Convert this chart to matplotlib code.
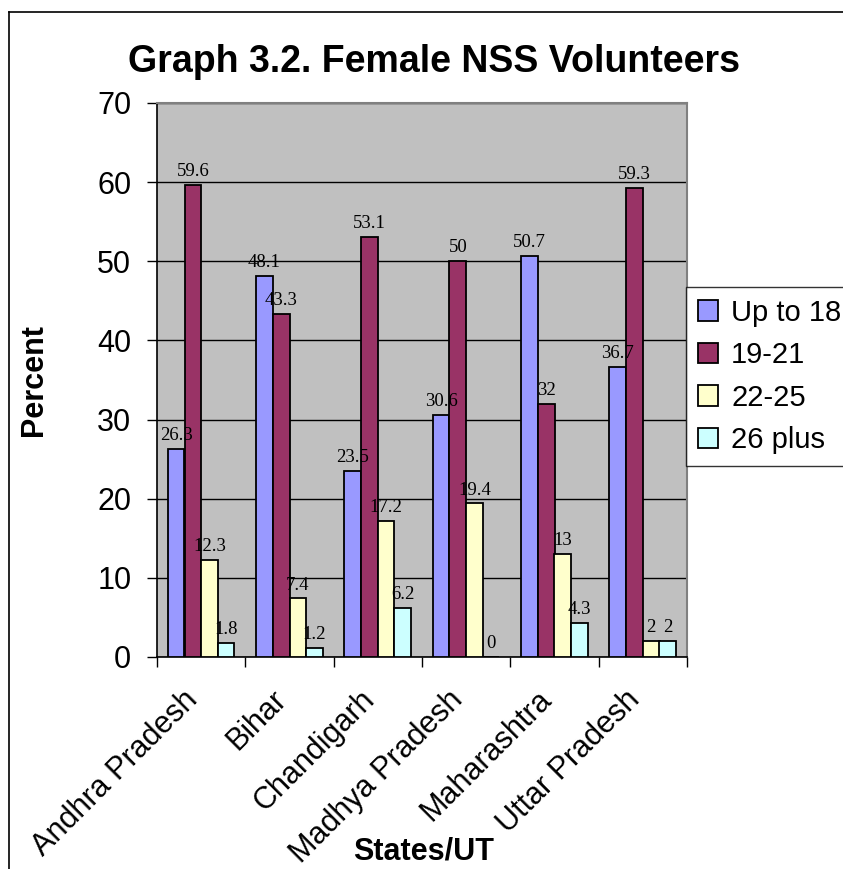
import matplotlib
matplotlib.use("Agg")
import matplotlib.pyplot as plt
import matplotlib.transforms as mtransforms
from matplotlib.lines import Line2D
import numpy as np

states = ["Andhra Pradesh", "Bihar", "Chandigarh", "Madhya Pradesh",
          "Maharashtra", "Uttar Pradesh"]
series_names = ["Up to 18", "19-21", "22-25", "26 plus"]
up_to_18 = [26.3, 48.1, 23.5, 30.6, 50.7, 36.7]
age_19_21 = [59.6, 43.3, 53.1, 50, 32, 59.3]
age_22_25 = [12.3, 7.4, 17.2, 19.4, 13, 2]
age_26_plus = [1.8, 1.2, 6.2, 0, 4.3, 2]
y_ticks = [0, 10, 20, 30, 40, 50, 60, 70]

series = [up_to_18, age_19_21, age_22_25, age_26_plus]
colors = ["#9999FF", "#993366", "#FFFFCC", "#CCFFFF"]

sans = "Liberation Sans"
serif = "Liberation Serif"

W, H = 843, 869
fig = plt.figure(figsize=(W / 100, H / 100), dpi=100)

def fx(px):
    return px / W

def fy(py):
    return 1 - py / H

left, right, top, bottom = 157, 687, 103, 657
ax = fig.add_axes([fx(left), fy(bottom), fx(right - left), (bottom - top) / H])
ax.set_facecolor("#C0C0C0")

n = len(states)
bar_w = 1 / 5.3
x = np.arange(n)
for i, (vals, col, name) in enumerate(zip(series, colors, series_names)):
    pos = x + 0.5 + (i - 1.5) * bar_w
    bars = ax.bar(pos, vals, width=bar_w, color=col, edgecolor="black",
                  linewidth=1.3, label=name, zorder=3)
    for b, v in zip(bars, vals):
        ax.annotate(f"{v:g}", (b.get_x() + b.get_width() / 2, v),
                    xytext=(0, 3.5), textcoords="offset points",
                    ha="center", va="bottom", fontsize=13.5,
                    family=serif, zorder=4)

ax.set_xlim(0, n)
ax.set_ylim(0, 70)
ax.set_yticks(y_ticks)
ax.yaxis.grid(True, color="black", linewidth=1.0, zorder=1)
ax.set_axisbelow(True)
ax.tick_params(axis="y", direction="out", length=7.5, width=1, pad=11,
               labelsize=22)
for lbl in ax.get_yticklabels():
    lbl.set_family(sans)

# category boundaries carry the tick marks, names sit at the centers
ax.set_xticks(np.arange(n + 1), minor=True)
ax.set_xticks(x + 0.5)
ax.set_xticklabels(states, rotation=45, ha="right", rotation_mode="anchor",
                   family=sans, fontsize=22)
ax.tick_params(axis="x", which="minor", direction="out", length=7.5, width=1)
ax.tick_params(axis="x", which="major", length=0, pad=20)
shift = mtransforms.ScaledTranslation(-13 / 72, 0, fig.dpi_scale_trans)
for lbl in ax.get_xticklabels():
    lbl.set_transform(lbl.get_transform() + shift)

for side in ("left", "bottom"):
    ax.spines[side].set_color("black")
    ax.spines[side].set_linewidth(1.2)
for side in ("top", "right"):
    ax.spines[side].set_color("#808080")
    ax.spines[side].set_linewidth(1.5)

fig.text(fx(434), fy(62), "Graph 3.2. Female NSS Volunteers", ha="center",
         va="center", fontsize=27, fontweight="bold", family=sans)
fig.text(fx(34), fy(380), "Percent", rotation=90, ha="center", va="center",
         fontsize=22, fontweight="bold", family=sans)
fig.text(fx(424), fy(851), "States/UT", ha="center", va="center",
         fontsize=22, fontweight="bold", family=sans)

leg = fig.legend(loc="upper left", bbox_to_anchor=(fx(686), fy(460), fx(200), (460 - 287) / H),
                 mode="expand", borderaxespad=0, frameon=True, fancybox=False,
                 prop={"family": sans, "size": 21}, handlelength=0.7,
                 handleheight=0.7, handletextpad=0.45, labelspacing=0.5,
                 borderpad=0.4)
leg.get_frame().set_edgecolor("black")
leg.get_frame().set_linewidth(1.0)

# outer chart frame
fig.add_artist(Line2D([fx(9), 1.0], [fy(12), fy(12)], color="black", linewidth=1.2))
fig.add_artist(Line2D([fx(9), fx(9)], [fy(12), 0.0], color="black", linewidth=1.2))

fig.savefig("out.png", dpi=100)
